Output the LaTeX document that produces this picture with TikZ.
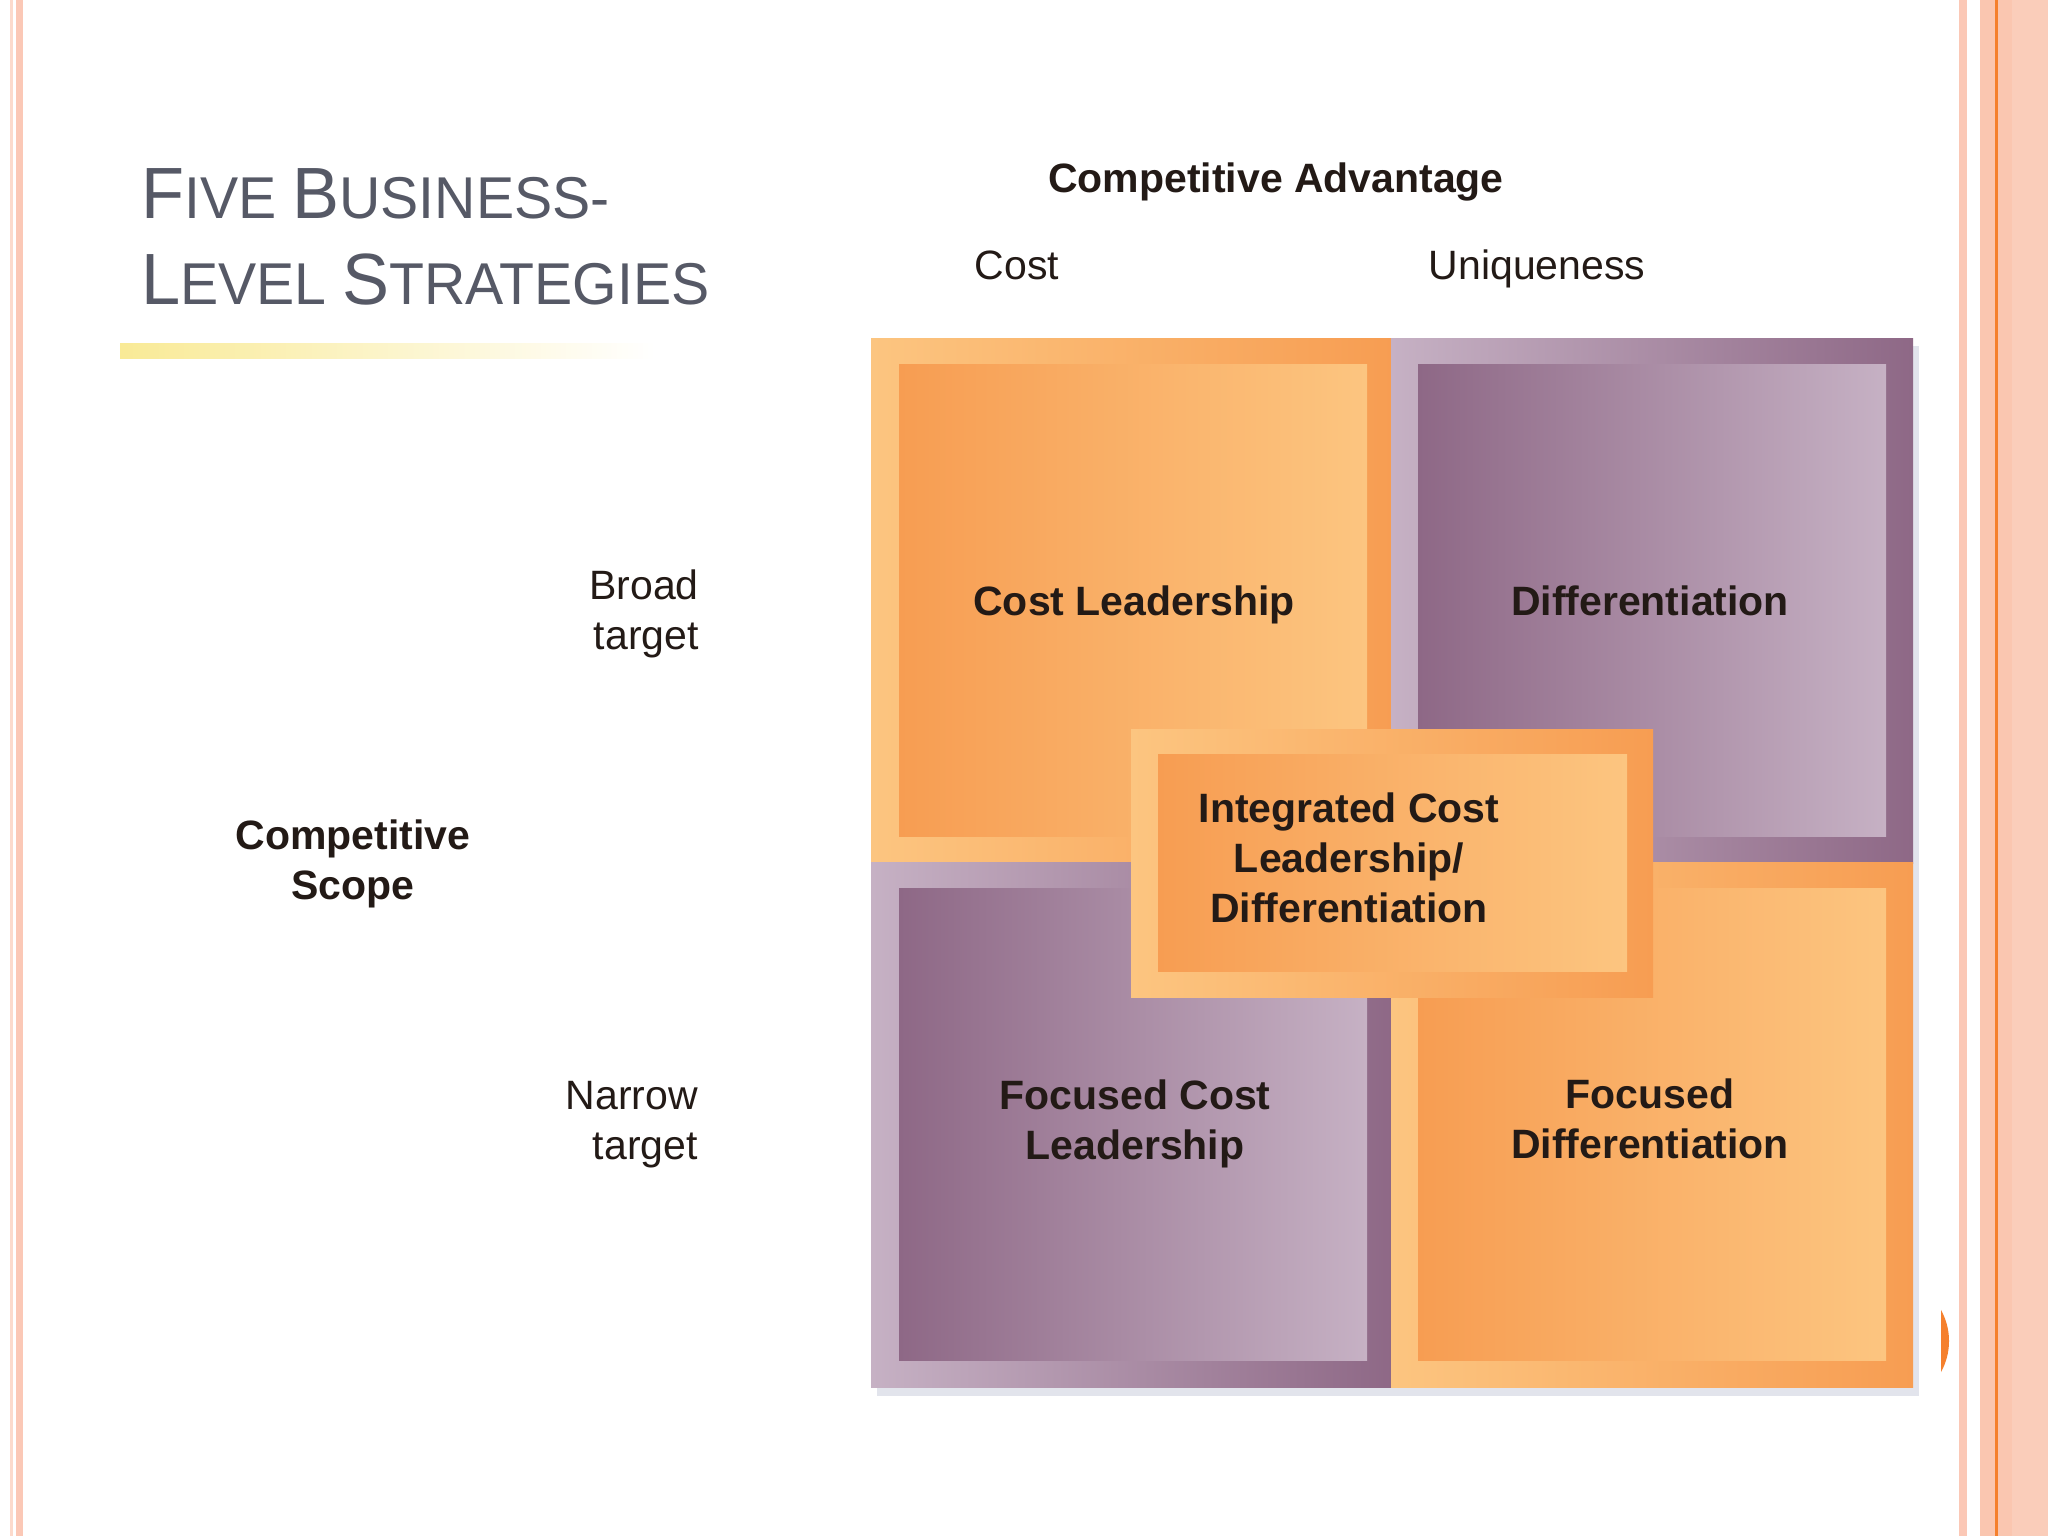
\documentclass[tikz,border=0pt]{standalone}
\usepackage{fontspec}
\setmainfont{Liberation Sans}
\definecolor{ttl}{RGB}{86,89,102}
\definecolor{txt}{RGB}{35,26,22}
\definecolor{oD}{RGB}{247,157,82}
\definecolor{oL}{RGB}{252,197,128}
\definecolor{pD}{RGB}{142,104,134}
\definecolor{pL}{RGB}{198,177,196}
\definecolor{salmon}{RGB}{250,198,176}
\definecolor{salmonB}{RGB}{250,205,186}
\definecolor{stripe}{RGB}{251,200,182}
\definecolor{stripeL}{RGB}{252,218,204}
\definecolor{orline}{RGB}{245,128,45}
\definecolor{barY}{RGB}{249,234,150}
\definecolor{shadowc}{RGB}{226,228,236}
\newcommand\bgc[1]{{\fontsize{72.6}{86}\selectfont #1}}
\newcommand\smc[1]{{\fontsize{59}{86}\selectfont #1}}
\tikzset{
  ofr/.style={left color=oL, right color=oD},
  oin/.style={left color=oD, right color=oL},
  pfr/.style={left color=pL, right color=pD},
  pin/.style={left color=pD, right color=pL},
  quad/.style={draw=none, inner sep=0pt, minimum width=522pt, minimum height=525pt},
  inbox/.style={draw=none, inner sep=0pt, minimum width=468pt, minimum height=472pt},
  lbl/.style={inner sep=0pt, text=txt, font=\fontsize{41}{49.6}\selectfont},
  blbl/.style={inner sep=0pt, text=txt, font=\fontsize{41}{49.6}\selectfont\bfseries},
}
\begin{document}
\begin{tikzpicture}[x=1pt,y=-1pt]
\useasboundingbox (0,0) rectangle (2048,1536);
\fill[white] (0,0) rectangle (2048,1536);
% borders
\fill[stripeL] (10,0) rectangle (13,1536);
\fill[stripe] (16,0) rectangle (23,1536);
\fill[stripe] (1959,0) rectangle (1967,1536);
\fill[salmon] (1980,0) rectangle (2012,1536);
\fill[salmonB] (2012,0) rectangle (2048,1536);
\fill[orline] (1995,0) rectangle (1998,1536);
\begin{scope}
  \clip (1941,1290) rectangle (1956,1395);
  \fill[orline] (1885,1341) circle (64pt);
\end{scope}
% title
\node[anchor=base west, align=left, text=ttl, inner sep=0pt, font=\fontsize{59}{86}\selectfont] (title) at (141,304)
  {\scalebox{0.97}[1]{\bgc{F}\smc{IVE} \bgc{B}\smc{USINESS-}}\\\scalebox{0.97}[1]{\bgc{L}\smc{EVEL} \bgc{S}\smc{TRATEGIES}}};
\shade[left color=barY, right color=white] (120,343) rectangle (655,358);
% shadow
\fill[shadowc] (877,346) rectangle (1919,1396);
% quadrants
\node[quad, ofr] (tl) at (1132,600.5) {};
\node[quad, pfr] (tr) at (1652,600.5) {};
\node[quad, pfr] (bl) at (1132,1125) {};
\node[quad, ofr] (br) at (1652,1125) {};
\node[inbox, oin] (tlin) at (1133,600) {};
\node[inbox, pin] (trin) at (1652,600) {};
\node[inbox, pin] (blin) at (1133,1124) {};
\node[inbox, oin] (brin) at (1652,1124) {};
% center
\node[draw=none, ofr, inner sep=0pt, minimum width=522pt, minimum height=268pt] (cfr) at (1392,863) {};
\node[inbox, oin, minimum width=469pt, minimum height=217pt] (cin) at (1392.5,863) {};
% box texts
\node[blbl, anchor=base] (tltx) at (1134,615.5) {Cost Leadership};
\node[blbl, anchor=base] (trtx) at (1650,615.5) {Differentiation};
\node[blbl, anchor=base, align=center] (bltx) at (1135,1159) {Focused Cost\\Leadership};
\node[blbl, anchor=base, align=center] (brtx) at (1650,1158) {Focused\\Differentiation};
\node[blbl, anchor=base, align=center] (ctx) at (1349,922) {Integrated Cost\\Leadership/\\Differentiation};
% axis labels
\node[blbl, anchor=base] (adv) at (1276,193) {Competitive Advantage};
\node[lbl, anchor=base] (cost) at (1017,279.5) {Cost};
\node[lbl, anchor=base] (uniq) at (1537,279.5) {Uniqueness};
\node[lbl, anchor=base east, align=right] (broad) at (699,649) {Broad\\target};
\node[blbl, anchor=base, align=center] (scope) at (353,899) {Competitive\\Scope};
\node[lbl, anchor=base east, align=right] (narrow) at (698,1159) {Narrow\\target};
\end{tikzpicture}
\end{document}
